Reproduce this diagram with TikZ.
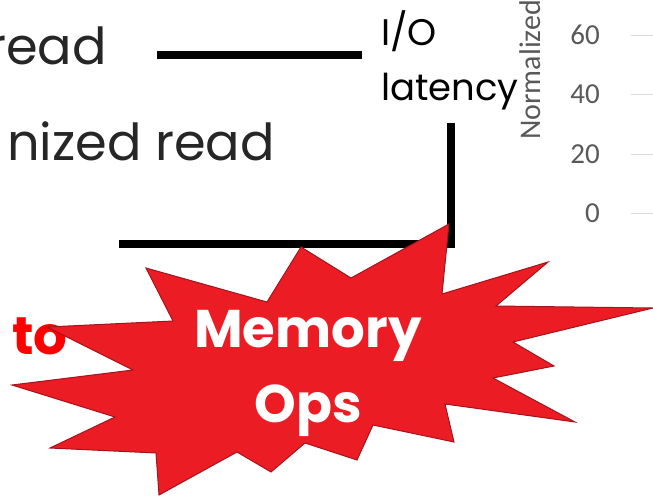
\documentclass[tikz,border=0pt]{standalone}
\usepackage{fontspec}
\setmainfont{Poppins}
\newfontfamily\chartfont{Carlito}
\usetikzlibrary{positioning}

\definecolor{burstred}{HTML}{EC1C24}
\definecolor{burstedge}{HTML}{A3141C}
\definecolor{axisgray}{HTML}{595959}
\definecolor{gridgray}{HTML}{D9D9D9}
\definecolor{slidetext}{HTML}{262626}

\begin{document}
\begin{tikzpicture}[x=1pt,y=-1pt,
 slide text/.style={font=\fontsize{51}{51}\selectfont,text=slidetext,inner sep=0pt,anchor=base east},
 io text/.style={font=\fontsize{37}{37}\selectfont,inner sep=0pt,anchor=base west},
 red text/.style={font=\bfseries\fontsize{53}{53}\selectfont,text=red,inner sep=0pt,anchor=base west},
 wire/.style={line width=7.5pt},
 axis label/.style={font=\chartfont\fontsize{30}{30}\selectfont,text=axisgray,inner sep=0pt,rotate=90,anchor=base west},
 tick label/.style={font=\chartfont\fontsize{29}{29}\selectfont,text=axisgray,inner sep=0pt,anchor=base east},
 grid line/.style={gridgray,line width=1.2pt},
 burst/.style={fill=burstred,draw=burstedge,line width=1pt,line join=miter},
 burst text/.style={font=\bfseries\fontsize{53}{53}\selectfont,text=white,inner sep=0pt,anchor=base}]

  \useasboundingbox (0,0) rectangle (653,498);

  % slide text
  \node[slide text] (read) at (107,64) {read};
  \node[slide text] (nized) at (275,160) {nized read};
  \node[red text] (to) at (12,354) {to};

  \node[io text] (io) at (381,45) {I/O};
  \node[io text] (lat) at (381,100) {latency};

  % connectors to the label
  \coordinate (top start) at (157,55);
  \coordinate (top end) at (362,55);
  \coordinate (low start) at (119,244);
  \coordinate (low corner) at (451,244);
  \coordinate (low end) at (451,123);
  \draw[wire] (top start) -- (top end);
  \draw[wire] (low start) -- (low corner) -- (low end);

  % chart axis
  \node[axis label] (ylabel) at (540,140) {Normalized};
  \foreach \v [count=\i from 0] in {0,20,40,60} {
    \node[tick label] (tick\v) at (600,222.5-59.4*\i) {\v};
    \coordinate (grid\v) at (631,213.5-59.4*\i);
    \draw[grid line] (grid\v) -- ++(22,0);
  }

  % the burst
  \path[burst] (146,268) -- (267,302) -- (301,247) -- (351,278) -- (449,224)
    -- (442,294) -- (548,262) -- (496,306) -- (653,308) -- (513,342)
    -- (554,366) -- (493,378) -- (575,422) -- (445,404) -- (454,442)
    -- (373,425) -- (357,460) -- (305,443) -- (271,472) -- (237,452)
    -- (159,495) -- (156,453) -- (50,448) -- (115,417) -- (12,385)
    -- (133,370) -- (47,327) -- (173,321) -- cycle;
  \node[burst text] (mem) at (308,347) {Memory};
  \node[burst text] (ops) at (308,422) {Ops};
\end{tikzpicture}
\end{document}
